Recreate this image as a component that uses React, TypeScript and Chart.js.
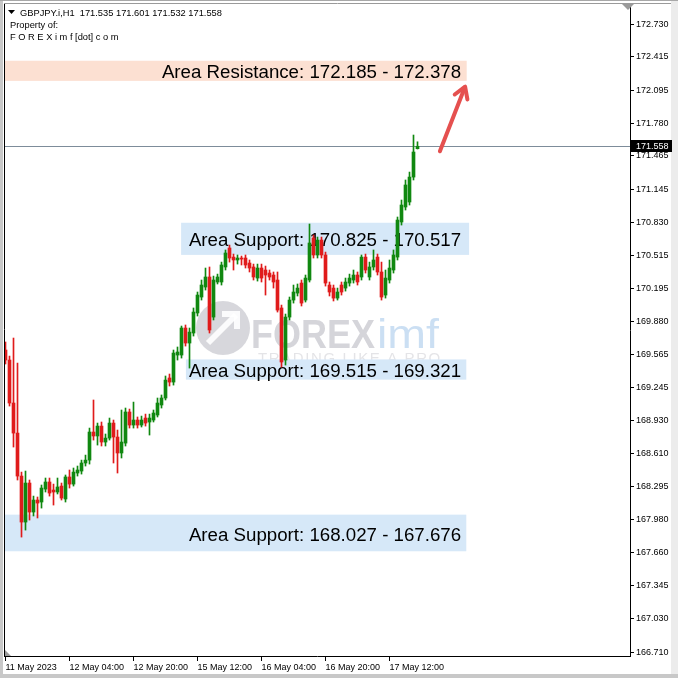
import React, { useEffect, useRef } from "react";
import { Chart, registerables } from "chart.js";
Chart.register(...registerables);

const titleText = "GBPJPY.i,H1  171.535 171.601 171.532 171.558";
const headerLines = ["Property of:", "F O R E X i m f [dot] c o m"];

const opens = [
  169.605, 169.509, 169.097, 168.809, 168.397, 167.956, 168.330, 168.052, 168.167, 168.148,
  168.272, 168.340, 168.263, 168.244, 168.301, 168.177, 168.388, 168.320, 168.426, 168.445,
  168.522, 168.550, 168.819, 168.781, 168.876, 168.723, 168.761, 168.905, 168.771, 168.618,
  168.713, 169.011, 168.886, 168.934, 168.886, 168.953, 168.915, 168.934, 168.982, 169.078,
  169.145, 169.337, 169.298, 169.557, 169.557, 169.816, 169.672, 169.768, 169.960, 170.113,
  170.209, 170.305, 169.921, 170.257, 170.257, 170.401, 170.583, 170.496, 170.468, 170.487,
  170.487, 170.439, 170.401, 170.295, 170.391, 170.372, 170.343, 170.324, 170.276, 170.008,
  169.509, 169.921, 170.084, 170.151, 170.247, 170.084, 170.276, 170.679, 170.516, 170.659,
  170.516, 170.228, 170.199, 170.103, 170.228, 170.199, 170.247, 170.276, 170.324, 170.305,
  170.496, 170.305, 170.401, 170.496, 170.353, 170.132, 170.276, 170.372, 170.496, 170.832,
  170.976, 171.024, 171.263, 171.535,
];
const highs = [
  169.682, 169.547, 169.720, 169.480, 168.435, 168.445, 168.359, 168.205, 168.196, 168.311,
  168.378, 168.378, 168.320, 168.378, 168.330, 168.407, 168.455, 168.474, 168.493, 168.550,
  168.598, 168.857, 169.126, 168.905, 168.915, 168.800, 168.953, 168.934, 168.838, 169.030,
  169.049, 169.039, 169.106, 168.963, 168.972, 168.991, 168.991, 169.030, 169.145, 169.174,
  169.356, 169.375, 169.605, 169.634, 169.835, 169.845, 169.816, 170.008, 170.161, 170.276,
  170.391, 170.401, 170.314, 170.333, 170.448, 170.564, 170.611, 170.525, 170.516, 170.506,
  170.516, 170.468, 170.429, 170.429, 170.429, 170.410, 170.372, 170.353, 170.353, 170.036,
  169.950, 170.113, 170.228, 170.238, 170.276, 170.324, 170.813, 170.707, 170.688, 170.688,
  170.544, 170.257, 170.228, 170.199, 170.257, 170.295, 170.333, 170.372, 170.353, 170.516,
  170.525, 170.448, 170.564, 170.525, 170.448, 170.372, 170.468, 170.564, 170.880, 171.043,
  171.235, 171.311, 171.666, 171.601,
];
const lows = [
  169.471, 169.068, 168.675, 168.359, 167.812, 167.879, 167.975, 168.014, 167.995, 168.090,
  168.244, 168.205, 168.119, 168.225, 168.167, 168.148, 168.282, 168.301, 168.397, 168.416,
  168.493, 168.512, 168.742, 168.694, 168.685, 168.685, 168.742, 168.522, 168.426, 168.570,
  168.685, 168.857, 168.857, 168.857, 168.867, 168.876, 168.790, 168.915, 168.963, 169.049,
  169.126, 169.260, 169.269, 169.509, 169.528, 169.643, 169.432, 169.739, 169.931, 170.084,
  170.180, 169.768, 169.893, 170.238, 170.228, 170.372, 170.448, 170.372, 170.429, 170.420,
  170.391, 170.353, 170.276, 170.266, 170.257, 170.132, 170.276, 170.199, 169.969, 169.442,
  169.461, 169.893, 170.055, 170.123, 170.027, 170.065, 170.257, 170.487, 170.487, 170.487,
  170.218, 170.123, 170.075, 170.084, 170.132, 170.170, 170.218, 170.247, 170.228, 170.276,
  170.343, 170.276, 170.372, 170.324, 170.084, 170.103, 170.247, 170.343, 170.468, 170.803,
  170.947, 170.995, 171.235, 171.532,
];
const closes = [
  169.509, 169.097, 168.809, 168.397, 167.956, 168.330, 168.052, 168.167, 168.138, 168.282,
  168.340, 168.234, 168.244, 168.292, 168.186, 168.388, 168.320, 168.435, 168.455, 168.522,
  168.550, 168.819, 168.781, 168.876, 168.723, 168.761, 168.905, 168.771, 168.618, 168.723,
  169.011, 168.886, 168.934, 168.886, 168.934, 168.905, 168.953, 169.001, 169.097, 169.145,
  169.317, 169.298, 169.576, 169.586, 169.816, 169.672, 169.777, 169.969, 170.132, 170.228,
  170.305, 169.797, 170.276, 170.305, 170.420, 170.535, 170.487, 170.468, 170.487, 170.477,
  170.420, 170.391, 170.305, 170.391, 170.295, 170.324, 170.305, 170.257, 169.988, 169.490,
  169.921, 170.084, 170.161, 170.199, 170.055, 170.295, 170.631, 170.516, 170.659, 170.516,
  170.247, 170.161, 170.103, 170.161, 170.161, 170.257, 170.295, 170.324, 170.257, 170.496,
  170.372, 170.401, 170.468, 170.353, 170.113, 170.295, 170.391, 170.516, 170.851, 170.995,
  171.187, 171.263, 171.503, 171.558,
];

const xTickIndex = [0, 16, 32, 48, 64, 80, 96];
const xTickLabels = ["11 May 2023", "12 May 04:00", "12 May 20:00", "15 May 12:00", "16 May 04:00", "16 May 20:00", "17 May 12:00"];
const yTickValues = [172.73, 172.415, 172.095, 171.78, 171.465, 171.145, 170.83, 170.515, 170.195, 169.88, 169.565, 169.245, 168.93, 168.61, 168.295, 167.98, 167.66, 167.345, 167.03, 166.71];
const yTickLabels = ["172.730", "172.415", "172.095", "171.780", "171.465", "171.145", "170.830", "170.515", "170.195", "169.880", "169.565", "169.245", "168.930", "168.610", "168.295", "167.980", "167.660", "167.345", "167.030", "166.710"];

const zoneLabels = [
  "Area Resistance: 172.185 - 172.378",
  "Area Support: 170.825 - 170.517",
  "Area Support: 169.515 - 169.321",
  "Area Support: 168.027 - 167.676",
];
const zoneLow = [172.185, 170.517, 169.321, 167.676];
const zoneHigh = [172.378, 170.825, 169.515, 168.027];
const zoneStart = [-0.4, 43.9, 45.1, -0.4];
const zoneEnd = [115.3, 115.9, 115.2, 115.2];
const zoneIsResistance = [true, false, false, false];
const zoneTextRight = 113.9;

const arrowFrom = { x: 108.6, y: 171.51 };
const arrowTo = { x: 114.9, y: 172.13 };

const lastPrice = 171.558;
const lastPriceLabel = "171.558";

const GREEN = "#108810";
const RED = "#e01b1b";
const FONT = "'Liberation Sans', Arial, sans-serif";

export default function App() {
  const ref = useRef<HTMLCanvasElement | null>(null);
  useEffect(() => {
    const canvas = ref.current;
    if (!canvas) return;
    const idx = closes.map((_, i) => i);
    const colors = idx.map((i) => (closes[i] >= opens[i] ? GREEN : RED));

    const backgroundPlugin = {
      id: "bgFrame",
      beforeDraw(chart: any) {
        const c = chart.ctx;
        c.save();
        c.fillStyle = "#ffffff";
        c.fillRect(0, 0, chart.width, chart.height);
        c.fillStyle = "#c8c8c8";
        c.fillRect(0, 0, 3, chart.height);
        c.fillStyle = "#ececec";
        c.fillRect(671, 0, 7, chart.height);
        c.fillStyle = "#c8c8c8";
        c.fillRect(0, 674, chart.width, 4);
        c.fillStyle = "#a8a8a8";
        c.fillRect(0, 0, chart.width, 1);
        c.restore();
      },
    };

    const zonesPlugin = {
      id: "zones",
      beforeDatasetsDraw(chart: any) {
        const c = chart.ctx;
        const xs = chart.scales.x;
        const ys = chart.scales.y;
        const area = chart.chartArea;
        c.save();
        c.beginPath();
        c.rect(area.left, area.top, area.right - area.left, area.bottom - area.top);
        c.clip();
        // watermark
        c.fillStyle = "rgba(150,150,162,0.38)";
        c.beginPath();
        c.arc(223, 328, 27, 0, Math.PI * 2);
        c.fill();
        c.strokeStyle = "rgba(255,255,255,0.9)";
        c.lineWidth = 6;
        c.beginPath();
        c.moveTo(208, 343);
        c.lineTo(236, 315);
        c.stroke();
        c.beginPath();
        c.moveTo(222, 314);
        c.lineTo(237, 314);
        c.lineTo(237, 329);
        c.stroke();
        c.font = `bold 40px ${FONT}`;
        c.textBaseline = "alphabetic";
        c.textAlign = "left";
        const fw = c.measureText("FOREX").width;
        c.save();
        c.translate(251, 348);
        c.scale(124 / fw, 1);
        c.fillStyle = "rgba(150,150,162,0.4)";
        c.fillText("FOREX", 0, 0);
        c.restore();
        c.font = `40px ${FONT}`;
        const iw = c.measureText("imf").width;
        c.save();
        c.translate(377, 348);
        c.scale(62 / iw, 1);
        c.fillStyle = "rgba(140,185,228,0.45)";
        c.fillText("imf", 0, 0);
        c.restore();
        c.font = `15px ${FONT}`;
        c.fillStyle = "rgba(170,170,180,0.32)";
        const tl = "TRADING LIKE A PRO";
        let tx = 258;
        for (const ch of tl) {
          c.fillText(ch, tx, 363);
          tx += c.measureText(ch).width + 1.6;
        }
        // bands
        for (let i = 0; i < zoneLabels.length; i++) {
          const x0 = xs.getPixelForValue(zoneStart[i]);
          const x1 = xs.getPixelForValue(zoneEnd[i]);
          const y0 = ys.getPixelForValue(zoneHigh[i]);
          const y1 = ys.getPixelForValue(zoneLow[i]);
          c.fillStyle = zoneIsResistance[i] ? "rgb(252,224,210)" : "rgb(214,232,248)";
          c.fillRect(x0, y0, x1 - x0, y1 - y0);
        }
        c.fillStyle = "#000";
        c.font = `18.7px ${FONT}`;
        c.textAlign = "right";
        c.textBaseline = "middle";
        for (let i = 0; i < zoneLabels.length; i++) {
          const y0 = ys.getPixelForValue(zoneHigh[i]);
          const y1 = ys.getPixelForValue(zoneLow[i]);
          c.fillText(zoneLabels[i], xs.getPixelForValue(zoneTextRight), (y0 + y1) / 2 + 2.5);
        }
        // last price line
        const py = Math.round(ys.getPixelForValue(lastPrice)) + 0.5;
        c.strokeStyle = "#7d8c9a";
        c.lineWidth = 1;
        c.beginPath();
        c.moveTo(area.left, py);
        c.lineTo(area.right, py);
        c.stroke();
        c.restore();
      },
    };

    const overlayPlugin = {
      id: "overlay",
      afterDraw(chart: any) {
        const c = chart.ctx;
        const xs = chart.scales.x;
        const ys = chart.scales.y;
        const area = chart.chartArea;
        c.save();
        c.strokeStyle = "#000";
        c.lineWidth = 1;
        c.beginPath();
        c.moveTo(area.left + 0.5, 3);
        c.lineTo(area.left + 0.5, area.bottom);
        c.stroke();
        c.strokeStyle = "#9a9a9a";
        c.beginPath();
        c.moveTo(area.left, 3.5);
        c.lineTo(671, 3.5);
        c.stroke();
        // arrow
        const ax0 = xs.getPixelForValue(arrowFrom.x);
        const ay0 = ys.getPixelForValue(arrowFrom.y);
        const ax1 = xs.getPixelForValue(arrowTo.x);
        const ay1 = ys.getPixelForValue(arrowTo.y);
        const ang = Math.atan2(ay1 - ay0, ax1 - ax0);
        c.strokeStyle = "#e5504f";
        c.lineWidth = 4;
        c.lineCap = "round";
        c.lineJoin = "round";
        c.beginPath();
        c.moveTo(ax0, ay0);
        c.lineTo(ax1 - Math.cos(ang) * 2, ay1 - Math.sin(ang) * 2);
        c.stroke();
        const hl = 13;
        c.beginPath();
        c.moveTo(ax1 - hl * Math.cos(ang - 0.55), ay1 - hl * Math.sin(ang - 0.55));
        c.lineTo(ax1, ay1);
        c.lineTo(ax1 - hl * Math.cos(ang + 0.55), ay1 - hl * Math.sin(ang + 0.55));
        c.stroke();
        // header
        c.fillStyle = "#000";
        c.beginPath();
        c.moveTo(8, 10);
        c.lineTo(15, 10);
        c.lineTo(11.5, 14);
        c.closePath();
        c.fill();
        c.font = `9.3px ${FONT}`;
        c.textAlign = "left";
        c.textBaseline = "middle";
        c.fillText(titleText, 20, 13);
        c.fillText(headerLines[0], 10, 25);
        c.fillText(headerLines[1], 10, 37);
        // price tag
        const py = ys.getPixelForValue(lastPrice);
        c.fillStyle = "#000";
        c.fillRect(area.right + 1, Math.round(py) - 6, 41, 12);
        c.fillStyle = "#fff";
        c.font = `9px ${FONT}`;
        c.fillText(lastPriceLabel, area.right + 6, Math.round(py) + 0.5);
        // small markers
        c.fillStyle = "#9a9a9a";
        c.beginPath();
        c.moveTo(622, 4);
        c.lineTo(634, 4);
        c.lineTo(628, 10);
        c.closePath();
        c.fill();
        c.beginPath();
        c.moveTo(area.left + 1, area.bottom - 6);
        c.lineTo(area.left + 1, area.bottom);
        c.lineTo(area.left + 7, area.bottom);
        c.closePath();
        c.fill();
        c.restore();
      },
    };

    const chart = new Chart(canvas, {
      type: "bar",
      data: {
        datasets: [
          {
            label: "body",
            data: idx.map((i) => ({ x: i, y: [opens[i], closes[i]] })) as any,
            backgroundColor: colors,
            borderWidth: 0,
            barThickness: 3,
            minBarLength: 1,
            grouped: false,
            order: 0,
          } as any,
          {
            label: "wick",
            data: idx.map((i) => ({ x: i, y: [lows[i], highs[i]] })) as any,
            backgroundColor: colors,
            borderWidth: 0,
            barThickness: 1,
            grouped: false,
            order: 1,
          } as any,
        ],
      },
      options: {
        responsive: false,
        animation: false,
        layout: { padding: { left: 4, top: 4, right: 0, bottom: 0 } },
        plugins: { legend: { display: false }, tooltip: { enabled: false } },
        scales: {
          x: {
            type: "linear",
            min: -0.375,
            max: 156.125,
            offset: false,
            grid: { display: true, drawOnChartArea: false, drawTicks: true, tickLength: 5, color: "#000", offset: false },
            border: { display: true, color: "#000" },
            ticks: {
              autoSkip: false,
              maxRotation: 0,
              align: "start",
              padding: 1,
              color: "#000",
              font: { family: FONT, size: 9 },
              callback: (v: any) => {
                const k = xTickIndex.indexOf(Number(v));
                return k >= 0 ? xTickLabels[k] : "";
              },
            },
            afterBuildTicks: (s: any) => {
              s.ticks = xTickIndex.map((v) => ({ value: v }));
            },
            afterFit: (s: any) => {
              s.height = 22;
              s.paddingLeft = 0;
              s.paddingRight = 0;
            },
          } as any,
          y: {
            type: "linear",
            position: "right",
            min: 166.672,
            max: 172.922,
            grid: { display: true, drawOnChartArea: false, drawTicks: true, tickLength: 4, color: "#000" },
            border: { display: true, color: "#000" },
            ticks: {
              autoSkip: false,
              padding: 2,
              color: "#000",
              font: { family: FONT, size: 9 },
              callback: (v: any) => {
                const k = yTickValues.findIndex((t) => Math.abs(t - Number(v)) < 1e-6);
                return k >= 0 ? yTickLabels[k] : "";
              },
            },
            afterBuildTicks: (s: any) => {
              s.ticks = yTickValues.map((v) => ({ value: v }));
            },
            afterFit: (s: any) => {
              s.width = 48;
              s.paddingTop = 0;
              s.paddingBottom = 0;
            },
          } as any,
        },
      },
      plugins: [backgroundPlugin, zonesPlugin, overlayPlugin],
    });
    return () => chart.destroy();
  }, []);

  return (
    <div style={{ position: "absolute", left: 0, top: 0, width: 678, height: 678 }}>
      <canvas ref={ref} width={678} height={678} style={{ display: "block", width: 678, height: 678 }} />
    </div>
  );
}
